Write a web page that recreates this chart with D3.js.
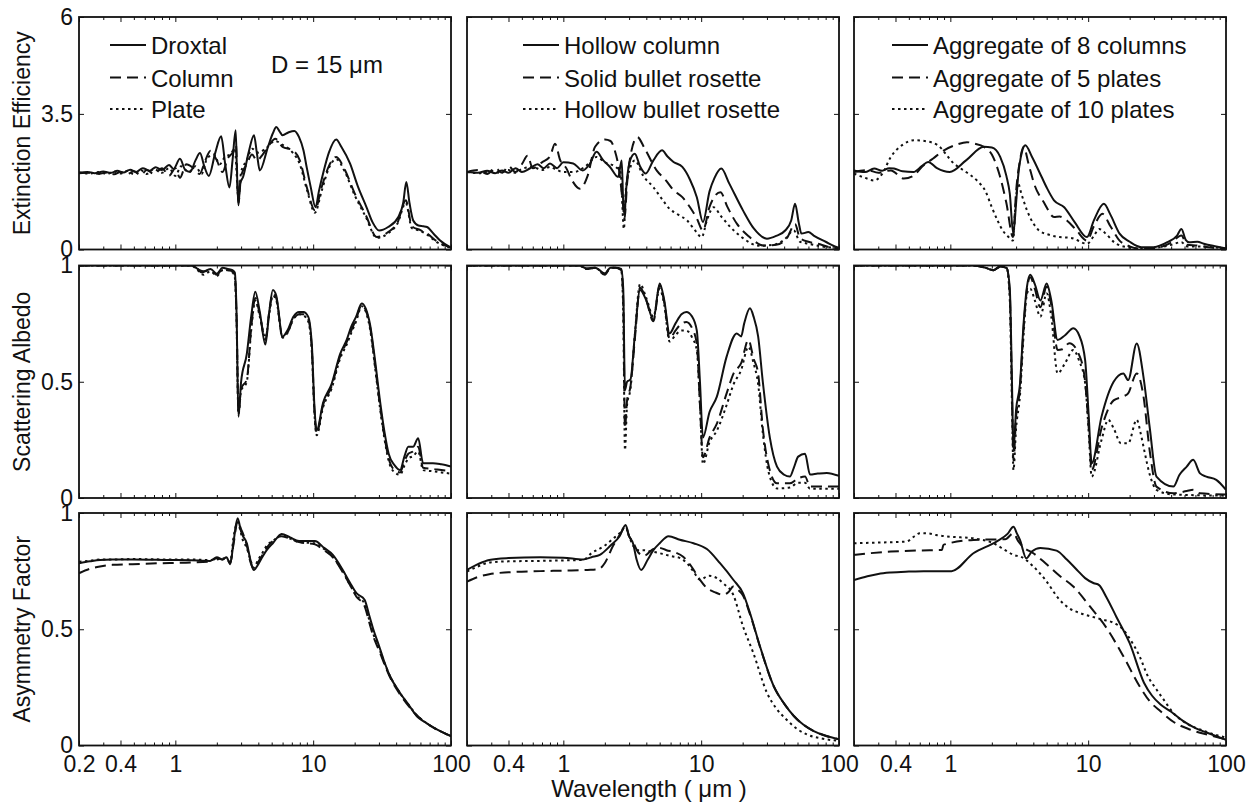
<!DOCTYPE html>
<html>
<head>
<meta charset="utf-8">
<script src="https://cdn.jsdelivr.net/npm/d3@7"></script>
<style>
  body { margin: 0; background: #fff; }
  svg text { font-family: "Liberation Sans", Arial, Helvetica, sans-serif; fill: #111; }
</style>
</head>
<body>
<svg id="chart" width="1251" height="803"></svg>
<script>
'use strict';

// ---- axis / label data ----
var wavelengthTicks = [0.2, 0.4, 1, 10, 100];
var wavelengthMinor = [0.3, 0.5, 0.6, 0.7, 0.8, 0.9, 2, 3, 4, 5, 6, 7, 8, 9, 20, 30, 40, 50, 60, 70, 80, 90];
var rowLabels = ['Extinction Efficiency', 'Scattering Albedo', 'Asymmetry Factor'];
var rowDomains = [[0, 6], [0, 1], [0, 1]];
var rowTicks = [[0, 3.5, 6], [0, 0.5, 1], [0, 0.5, 1]];
var legendNames = [
    ['Droxtal', 'Column', 'Plate'],
    ['Hollow column', 'Solid bullet rosette', 'Hollow bullet rosette'],
    ['Aggregate of 8 columns', 'Aggregate of 5 plates', 'Aggregate of 10 plates']
];

// ---- extinction efficiency [wavelength um, value] ----
var qextDroxtal = [[0.2,1.98],[0.23,2.0],[0.26,1.97],[0.3,2.01],[0.34,1.98],[0.38,2.03],[0.42,1.99],[0.47,2.06],[0.52,2.0],[0.58,2.1],[0.65,2.03],[0.72,2.12],[0.8,2.05],[0.9,2.18],[0.97,2.08],[1.08,2.34],[1.18,2.05],[1.28,2.0],[1.4,2.3],[1.51,2.49],[1.62,2.15],[1.75,1.9],[1.95,2.5],[2.15,2.92],[2.3,2.2],[2.47,1.6],[2.6,2.3],[2.74,3.08],[2.8,2.0],[2.87,1.14],[2.95,1.7],[3.1,1.87],[3.4,2.5],[3.72,2.95],[3.9,2.5],[4.1,2.04],[4.7,2.65],[5.1,3.0],[5.4,3.16],[5.7,3.05],[6.0,2.95],[6.6,3.02],[7.3,3.06],[7.9,2.9],[8.5,2.56],[9.0,2.1],[9.6,1.61],[10.4,1.09],[11.0,1.5],[11.8,1.96],[13.0,2.5],[14.7,2.84],[16.0,2.65],[18.5,2.22],[21,1.65],[24.4,1.09],[27,0.7],[30.1,0.49],[35,0.58],[41.5,0.84],[45,1.2],[47.4,1.74],[50,1.2],[53.2,0.75],[58,0.62],[63,0.6],[67,0.58],[75,0.4],[83.4,0.23],[100,0.05]];
var qextColumn = [[0.2,1.97],[0.24,1.98],[0.28,1.95],[0.32,1.99],[0.36,1.94],[0.4,2.0],[0.45,1.95],[0.5,2.02],[0.56,1.92],[0.62,2.05],[0.7,1.95],[0.8,2.1],[0.9,1.9],[1.0,2.1],[1.08,1.85],[1.2,2.2],[1.35,2.1],[1.5,1.95],[1.65,2.3],[1.8,2.55],[2.0,2.3],[2.2,2.0],[2.4,2.35],[2.6,2.5],[2.75,2.7],[2.87,1.2],[3.0,1.9],[3.3,2.2],[3.6,2.45],[3.9,2.3],[4.3,2.45],[4.8,2.7],[5.3,2.86],[6.0,2.65],[7.1,2.56],[8.0,2.3],[9.0,1.6],[10.3,1.01],[11.5,1.6],[13,2.15],[14.7,2.39],[17,2.05],[20,1.45],[24,0.9],[29,0.32],[35,0.45],[41,0.7],[47,1.27],[52,0.6],[60,0.5],[67,0.41],[80,0.2],[100,0.05]];
var qextPlate = [[0.2,1.99],[0.24,1.96],[0.28,2.0],[0.32,1.95],[0.36,2.01],[0.4,1.96],[0.45,2.03],[0.5,1.94],[0.56,2.05],[0.62,1.95],[0.7,2.08],[0.8,1.98],[0.9,2.1],[1.0,1.9],[1.1,2.15],[1.25,2.0],[1.4,2.15],[1.55,1.95],[1.7,2.35],[1.9,2.45],[2.1,2.2],[2.3,2.4],[2.5,2.45],[2.7,2.6],[2.87,1.3],[3.0,2.0],[3.3,2.3],[3.6,2.6],[4.0,2.5],[4.5,2.6],[5.3,2.8],[6.0,2.7],[7.1,2.5],[8.0,2.2],[9.0,1.55],[10.3,0.95],[11.5,1.5],[13,2.1],[14.7,2.33],[17,2.0],[20,1.4],[24,0.85],[29,0.3],[35,0.42],[41,0.68],[47,1.2],[52,0.55],[60,0.48],[67,0.38],[80,0.18],[100,0.04]];

var qextHollowColumn = [[0.2,2.0],[0.24,1.98],[0.28,2.03],[0.32,1.97],[0.36,2.04],[0.4,1.98],[0.45,2.1],[0.5,2.0],[0.57,2.09],[0.65,2.2],[0.72,2.1],[0.8,2.22],[0.9,2.1],[1.0,2.25],[1.18,2.22],[1.38,2.04],[1.55,2.2],[1.74,2.52],[1.95,2.3],[2.18,2.13],[2.5,1.87],[2.65,2.3],[2.72,1.2],[2.78,0.9],[2.85,1.5],[3.05,2.3],[3.3,2.47],[3.6,2.15],[3.96,1.96],[4.5,2.3],[5.2,2.56],[5.7,2.4],[6.3,2.26],[7.3,2.13],[8.3,1.8],[9.3,1.35],[10.3,0.71],[11.5,1.5],[12.5,1.85],[14,2.09],[16,1.7],[20.1,1.01],[24,0.55],[30,0.28],[35,0.35],[40.7,0.49],[45,0.75],[48,1.18],[51,0.7],[53.4,0.41],[60,0.45],[65.5,0.36],[80,0.2],[97,0.06],[100,0.05]];
var qextSolidBullet = [[0.2,2.0],[0.24,2.05],[0.28,1.95],[0.32,2.1],[0.36,1.98],[0.4,2.15],[0.45,2.0],[0.5,2.2],[0.55,2.42],[0.6,2.1],[0.7,2.25],[0.8,2.4],[0.87,2.73],[0.95,2.3],[1.05,2.1],[1.15,1.8],[1.32,1.57],[1.5,1.9],[1.7,2.65],[2.0,2.84],[2.2,2.8],[2.36,2.56],[2.55,2.0],[2.7,1.2],[2.78,0.8],[2.9,1.7],[3.1,2.5],[3.44,2.9],[3.9,2.6],[4.75,2.04],[5.5,1.8],[6.3,1.53],[7.3,1.35],[8.3,1.09],[9.3,0.8],[10.3,0.49],[11.5,1.1],[13.8,1.48],[15.5,1.1],[18.2,0.66],[22,0.35],[28.6,0.1],[35,0.12],[42,0.3],[48,0.66],[52,0.3],[60,0.2],[70,0.15],[85,0.06],[100,0.03]];
var qextHollowBullet = [[0.2,2.0],[0.25,1.97],[0.3,2.03],[0.35,1.98],[0.4,2.05],[0.45,1.98],[0.5,2.08],[0.6,2.13],[0.7,2.05],[0.8,2.13],[0.9,2.05],[1.0,2.0],[1.2,2.0],[1.45,2.15],[1.74,2.39],[2.0,2.25],[2.4,2.13],[2.6,2.0],[2.75,0.53],[2.85,1.6],[3.05,2.1],[3.3,2.3],[3.8,1.9],[4.5,1.61],[5.2,1.3],[5.9,1.05],[6.8,0.9],[7.9,0.75],[9.0,0.5],[10.1,0.32],[11,0.75],[12.3,1.09],[14,0.85],[16.3,0.58],[20,0.3],[26,0.1],[33,0.12],[40,0.25],[47,0.49],[52,0.2],[60,0.15],[75,0.08],[100,0.03]];

var qextAgg8Col = [[0.2,2.04],[0.24,2.0],[0.28,2.09],[0.32,2.03],[0.36,2.1],[0.39,2.09],[0.45,2.02],[0.54,2.0],[0.62,2.15],[0.69,2.26],[0.8,2.1],[0.99,2.0],[1.3,2.3],[1.75,2.65],[2.0,2.63],[2.3,2.39],[2.55,1.9],[2.7,1.44],[2.86,0.41],[3.0,1.2],[3.1,1.87],[3.3,2.5],[3.5,2.69],[3.9,2.4],[4.6,1.87],[5.0,1.6],[5.65,1.27],[6.7,1.09],[8,0.7],[9.8,0.32],[11,0.75],[13,1.18],[14.5,0.9],[16.9,0.41],[20,0.2],[24.3,0.06],[30,0.06],[37.7,0.19],[44,0.35],[47.5,0.53],[51,0.25],[54,0.19],[62,0.2],[69,0.15],[85,0.08],[100,0.03]];
var qextAgg5Plate = [[0.2,2.0],[0.25,2.05],[0.3,1.98],[0.37,2.04],[0.46,1.83],[0.54,1.9],[0.62,2.13],[0.75,2.35],[0.9,2.56],[1.1,2.7],[1.32,2.77],[1.5,2.73],[1.75,2.65],[2.0,2.45],[2.3,1.87],[2.55,1.2],[2.85,0.32],[3.0,1.5],[3.2,2.3],[3.4,2.65],[3.7,2.2],[4.05,1.7],[4.8,1.2],[5.65,0.84],[6.2,0.85],[7,0.75],[8.2,0.5],[9.8,0.23],[11,0.6],[12.7,0.92],[14.5,0.6],[16.9,0.23],[20,0.08],[24,0.02],[32,0.05],[40,0.18],[47.5,0.36],[52,0.12],[62,0.1],[75,0.06],[100,0.02]];
var qextAgg10Plate = [[0.2,1.96],[0.24,1.85],[0.28,1.78],[0.32,1.95],[0.37,2.39],[0.45,2.7],[0.545,2.82],[0.65,2.8],[0.81,2.69],[1.06,2.22],[1.3,2.0],[1.56,1.78],[1.8,1.5],[2.0,1.09],[2.2,0.75],[2.4,0.49],[2.6,0.35],[2.85,0.23],[2.95,1.0],[3.1,1.7],[3.3,1.4],[3.6,1.01],[4.4,0.49],[5.2,0.38],[6.2,0.32],[7.5,0.3],[9.8,0.15],[11,0.35],[12,0.53],[13.5,0.4],[15.4,0.19],[19,0.06],[24,0.02],[32,0.05],[40,0.12],[47.5,0.19],[52,0.08],[62,0.08],[100,0.02]];

// ---- single scattering albedo ----
var ssaDroxtal = [[0.2,1],[1.3,1],[1.43,0.988],[1.55,0.97],[1.8,0.985],[2.0,0.965],[2.2,0.99],[2.4,0.985],[2.6,0.98],[2.7,0.97],[2.78,0.8],[2.87,0.35],[3.0,0.5],[3.3,0.62],[3.55,0.78],[3.8,0.887],[4.1,0.8],[4.5,0.66],[4.8,0.8],[5.1,0.895],[5.4,0.87],[6.0,0.694],[6.5,0.72],[7.2,0.78],[7.9,0.8],[8.5,0.8],[9.2,0.78],[9.8,0.65],[10.2,0.4],[10.6,0.29],[11.8,0.41],[13.6,0.49],[15.7,0.62],[17.5,0.68],[18.9,0.737],[20.5,0.78],[22.5,0.837],[25.8,0.75],[28,0.6],[30.5,0.42],[33,0.28],[35.3,0.19],[39,0.14],[42.7,0.12],[46,0.18],[49,0.22],[53,0.22],[57.8,0.257],[62.8,0.149],[74,0.15],[85,0.145],[100,0.135]];
var ssaColumn = [[0.2,1],[1.3,1],[1.45,0.985],[1.6,0.975],[1.8,0.98],[2.0,0.96],[2.2,0.985],[2.4,0.98],[2.6,0.975],[2.7,0.96],[2.78,0.78],[2.87,0.37],[3.0,0.47],[3.3,0.51],[3.55,0.73],[3.8,0.86],[4.1,0.79],[4.5,0.68],[4.8,0.8],[5.1,0.88],[5.4,0.86],[6.0,0.69],[6.5,0.71],[7.2,0.77],[7.9,0.79],[8.5,0.79],[9.2,0.77],[9.8,0.63],[10.2,0.38],[10.6,0.28],[11.8,0.4],[13.6,0.48],[15.7,0.61],[17.5,0.67],[18.9,0.72],[20.5,0.77],[22.5,0.83],[25.8,0.74],[28,0.58],[30.5,0.4],[33,0.26],[35.3,0.17],[39,0.12],[42.7,0.11],[46,0.16],[49,0.19],[53,0.2],[57.8,0.22],[62.8,0.13],[74,0.125],[85,0.12],[100,0.115]];
var ssaPlate = [[0.2,1],[1.3,1],[1.45,0.98],[1.6,0.96],[1.8,0.975],[2.0,0.955],[2.2,0.98],[2.4,0.98],[2.6,0.97],[2.7,0.95],[2.78,0.76],[2.87,0.36],[3.0,0.46],[3.3,0.5],[3.55,0.72],[3.8,0.85],[4.1,0.78],[4.5,0.69],[4.8,0.79],[5.1,0.87],[5.4,0.85],[6.0,0.69],[6.5,0.71],[7.2,0.77],[7.9,0.79],[8.5,0.785],[9.2,0.76],[9.8,0.62],[10.2,0.37],[10.6,0.27],[11.8,0.39],[13.6,0.47],[15.7,0.6],[17.5,0.66],[18.9,0.71],[20.5,0.76],[22.5,0.825],[25.8,0.73],[28,0.57],[30.5,0.39],[33,0.25],[35.3,0.16],[39,0.11],[42.7,0.1],[46,0.14],[49,0.17],[53,0.18],[57.8,0.2],[62.8,0.12],[74,0.115],[85,0.11],[100,0.105]];

var ssaHollowColumn = [[0.2,1],[1.3,1],[1.47,0.988],[1.7,0.99],[2.0,0.966],[2.2,0.99],[2.4,0.99],[2.63,0.985],[2.72,0.9],[2.8,0.465],[2.9,0.5],[3.07,0.51],[3.3,0.7],[3.6,0.895],[4.0,0.85],[4.5,0.766],[5.0,0.923],[5.4,0.85],[5.9,0.708],[6.5,0.75],[7.2,0.79],[7.8,0.8],[8.6,0.78],[9.3,0.72],[9.8,0.5],[10.3,0.26],[11.5,0.37],[13,0.436],[15.3,0.608],[18.1,0.708],[19.5,0.695],[20.5,0.75],[22.6,0.816],[24,0.78],[25.9,0.695],[28,0.5],[31.5,0.26],[35.5,0.135],[40,0.1],[44,0.092],[47,0.13],[50.6,0.178],[56.7,0.19],[61.6,0.101],[70,0.105],[81.5,0.108],[100,0.095]];
var ssaSolidBullet = [[0.2,1],[1.3,1],[1.47,0.985],[1.7,0.99],[2.0,0.96],[2.2,0.99],[2.4,0.99],[2.63,0.98],[2.72,0.85],[2.8,0.3],[2.9,0.42],[3.07,0.48],[3.3,0.68],[3.6,0.905],[4.0,0.85],[4.5,0.76],[5.0,0.915],[5.4,0.84],[5.9,0.685],[6.5,0.72],[7.2,0.75],[7.8,0.757],[8.6,0.73],[9.3,0.663],[9.8,0.4],[10.3,0.175],[11.5,0.26],[13,0.32],[15.3,0.45],[17.2,0.536],[19.5,0.58],[22,0.68],[24,0.6],[25.9,0.536],[28,0.3],[31,0.135],[35.5,0.063],[44,0.063],[50.6,0.085],[56.7,0.092],[61.6,0.05],[100,0.05]];
var ssaHollowBullet = [[0.2,1],[1.3,1],[1.47,0.985],[1.7,0.99],[2.0,0.965],[2.2,0.99],[2.4,0.99],[2.63,0.98],[2.72,0.8],[2.8,0.206],[2.9,0.4],[3.07,0.47],[3.3,0.7],[3.6,0.92],[4.0,0.86],[4.5,0.78],[5.0,0.9],[5.4,0.83],[5.9,0.673],[6.5,0.7],[7.2,0.72],[7.8,0.72],[8.6,0.69],[9.3,0.636],[9.8,0.4],[10.3,0.146],[11.5,0.24],[13,0.29],[15.3,0.4],[17.2,0.49],[19.5,0.55],[22,0.65],[24,0.58],[25.9,0.49],[28,0.28],[31,0.106],[35.5,0.041],[44,0.045],[50.6,0.066],[56.7,0.066],[61.6,0.04],[100,0.04]];

var ssaAgg8Col = [[0.2,1],[1.3,1],[1.47,1.0],[1.8,0.99],[2.05,0.98],[2.3,0.995],[2.56,0.99],[2.7,0.9],[2.8,0.5],[2.87,0.206],[3.0,0.38],[3.2,0.49],[3.4,0.75],[3.6,0.91],[3.8,0.96],[4.1,0.92],[4.5,0.85],[5.0,0.923],[5.4,0.85],[6.0,0.68],[6.8,0.7],[7.8,0.73],[8.6,0.7],[9.5,0.594],[10.1,0.35],[10.6,0.149],[12.5,0.35],[15.3,0.5],[18,0.536],[19.5,0.507],[22.5,0.665],[25.2,0.52],[28,0.3],[31.3,0.092],[41.5,0.049],[46,0.1],[51.9,0.135],[57.8,0.164],[64.8,0.106],[72,0.092],[85,0.078],[100,0.035]];
var ssaAgg5Plate = [[0.2,1],[1.3,1],[1.47,1.0],[1.8,0.99],[2.05,0.98],[2.3,0.995],[2.56,0.99],[2.7,0.88],[2.8,0.45],[2.87,0.16],[3.0,0.35],[3.2,0.47],[3.4,0.73],[3.6,0.9],[3.8,0.95],[4.1,0.9],[4.5,0.82],[5.0,0.91],[5.4,0.83],[6.0,0.637],[6.5,0.64],[7.3,0.666],[8.7,0.608],[9.5,0.5],[10.1,0.3],[10.6,0.12],[12.5,0.3],[15.3,0.42],[18,0.437],[19.5,0.45],[22.5,0.536],[25.2,0.437],[28,0.2],[31.3,0.049],[41.5,0.02],[51.9,0.03],[57.8,0.035],[64.8,0.02],[100,0.015]];
var ssaAgg10Plate = [[0.2,1],[1.3,1],[1.47,1.0],[1.8,0.99],[2.05,0.98],[2.3,0.995],[2.56,0.99],[2.7,0.85],[2.8,0.4],[2.87,0.12],[3.0,0.3],[3.2,0.44],[3.4,0.7],[3.6,0.88],[3.8,0.9],[4.1,0.85],[4.5,0.78],[5.0,0.88],[5.4,0.78],[6.0,0.536],[6.8,0.58],[7.8,0.637],[8.6,0.59],[9.5,0.495],[10.1,0.28],[10.6,0.092],[12.5,0.25],[14,0.336],[15.3,0.3],[17.3,0.235],[19.5,0.235],[22.5,0.336],[24,0.28],[25.5,0.206],[28,0.1],[31.3,0.035],[41.5,0.015],[100,0.01]];

// ---- asymmetry factor ----
var gDroxtal = [[0.2,0.784],[0.24,0.792],[0.284,0.798],[0.35,0.8],[0.49,0.8],[0.91,0.798],[1.3,0.797],[1.79,0.794],[2.0,0.81],[2.2,0.8],[2.35,0.81],[2.5,0.78],[2.65,0.88],[2.83,0.977],[3.0,0.92],[3.1,0.9],[3.3,0.87],[3.5,0.8],[3.7,0.755],[4.0,0.78],[4.3,0.813],[4.6,0.84],[5.1,0.87],[5.9,0.91],[6.8,0.895],[7.9,0.88],[10.3,0.88],[12,0.85],[13.9,0.82],[16.4,0.755],[18.5,0.7],[20.6,0.655],[23.6,0.627],[25.5,0.56],[27.3,0.5],[30,0.43],[32.4,0.37],[36,0.3],[42.7,0.226],[50,0.17],[56.5,0.126],[65,0.1],[75.5,0.076],[88,0.055],[100,0.04]];
var gColumn = [[0.2,0.741],[0.24,0.76],[0.284,0.77],[0.35,0.777],[0.49,0.78],[0.91,0.785],[1.3,0.787],[1.79,0.792],[2.0,0.805],[2.2,0.8],[2.35,0.805],[2.5,0.785],[2.65,0.87],[2.83,0.965],[3.0,0.93],[3.1,0.91],[3.3,0.86],[3.5,0.79],[3.7,0.76],[4.0,0.79],[4.3,0.82],[4.6,0.85],[5.1,0.88],[5.9,0.9],[6.8,0.89],[7.9,0.875],[10.3,0.865],[12,0.84],[13.9,0.81],[16.4,0.745],[18.5,0.69],[20.6,0.64],[23.6,0.6],[25.5,0.53],[27.3,0.47],[30,0.41],[32.4,0.36],[36,0.295],[42.7,0.22],[50,0.165],[56.5,0.13],[65,0.1],[75.5,0.075],[88,0.055],[100,0.04]];
var gPlate = [[0.2,0.79],[0.24,0.795],[0.284,0.8],[0.35,0.8],[0.49,0.802],[0.91,0.8],[1.3,0.8],[1.79,0.798],[2.0,0.8],[2.2,0.805],[2.35,0.8],[2.5,0.79],[2.65,0.9],[2.83,0.96],[3.0,0.91],[3.1,0.88],[3.3,0.85],[3.5,0.8],[3.7,0.765],[4.0,0.8],[4.3,0.83],[4.6,0.86],[5.1,0.88],[5.9,0.905],[6.8,0.89],[7.9,0.875],[10.3,0.87],[12,0.845],[13.9,0.81],[16.4,0.75],[18.5,0.69],[20.6,0.645],[23.6,0.61],[25.5,0.54],[27.3,0.48],[30,0.42],[32.4,0.365],[36,0.3],[42.7,0.225],[50,0.17],[56.5,0.13],[65,0.1],[75.5,0.075],[88,0.055],[100,0.04]];

var gHollowColumn = [[0.2,0.755],[0.24,0.78],[0.29,0.798],[0.4,0.806],[0.68,0.81],[1.0,0.808],[1.39,0.8],[1.6,0.81],[1.84,0.82],[2.2,0.86],[2.56,0.9],[2.83,0.948],[3.0,0.9],[3.2,0.87],[3.4,0.8],[3.67,0.755],[4.1,0.8],[4.5,0.84],[5.0,0.87],[5.8,0.9],[7.0,0.885],[8.8,0.87],[11,0.845],[13.7,0.784],[17.1,0.713],[20.1,0.655],[22.6,0.57],[26.7,0.427],[33.6,0.255],[40,0.18],[47.2,0.126],[55,0.09],[65.6,0.062],[80,0.042],[100,0.027]];
var gSolidBullet = [[0.2,0.705],[0.24,0.725],[0.29,0.737],[0.4,0.745],[0.68,0.75],[1.0,0.752],[1.5,0.755],[1.8,0.758],[2.0,0.785],[2.3,0.86],[2.56,0.905],[2.83,0.94],[3.0,0.9],[3.2,0.875],[3.5,0.83],[3.85,0.816],[4.5,0.845],[5.0,0.85],[5.6,0.84],[6.5,0.83],[7.4,0.812],[8.5,0.77],[9.8,0.713],[11,0.677],[12.5,0.66],[14.4,0.648],[15.8,0.66],[17.1,0.684],[18.5,0.67],[20.1,0.645],[22.6,0.565],[26.7,0.425],[33.6,0.255],[40,0.18],[47.2,0.126],[55,0.09],[65.6,0.062],[80,0.042],[100,0.027]];
var gHollowBullet = [[0.2,0.748],[0.24,0.77],[0.29,0.787],[0.4,0.792],[0.68,0.794],[1.0,0.796],[1.39,0.798],[1.6,0.827],[2.0,0.86],[2.3,0.89],[2.56,0.913],[2.83,0.94],[3.0,0.9],[3.2,0.86],[3.5,0.84],[3.85,0.84],[4.3,0.835],[5.0,0.827],[6.0,0.815],[7.1,0.805],[8.0,0.78],[8.8,0.748],[9.8,0.713],[11.4,0.73],[13,0.72],[14.4,0.698],[17.1,0.648],[20.1,0.513],[23.9,0.398],[30,0.227],[35,0.16],[41.5,0.112],[50,0.07],[58.7,0.047],[75,0.03],[100,0.02]];

var gAgg8Col = [[0.2,0.712],[0.25,0.728],[0.3,0.738],[0.37,0.744],[0.5,0.748],[0.64,0.75],[1.02,0.75],[1.47,0.827],[2.16,0.877],[2.6,0.91],[2.87,0.941],[3.05,0.91],[3.2,0.884],[3.56,0.805],[3.9,0.834],[4.5,0.85],[5.9,0.838],[7,0.8],[8.3,0.755],[9.5,0.72],[11,0.698],[12,0.69],[13.5,0.64],[16,0.554],[20,0.44],[25.4,0.27],[29,0.215],[33.5,0.176],[40,0.145],[49,0.105],[60,0.075],[73,0.055],[100,0.024]];
var gAgg5Plate = [[0.2,0.82],[0.25,0.826],[0.37,0.834],[0.6,0.839],[0.87,0.841],[0.89,0.863],[1.47,0.884],[2.0,0.886],[2.5,0.887],[2.87,0.913],[3.1,0.88],[3.35,0.856],[4.0,0.827],[4.9,0.784],[6.2,0.73],[7.8,0.684],[10.3,0.598],[13.6,0.505],[18,0.384],[23.6,0.255],[28,0.19],[33.5,0.147],[42,0.1],[54.6,0.069],[75,0.045],[100,0.027]];
var gAgg10Plate = [[0.2,0.87],[0.3,0.873],[0.48,0.877],[0.55,0.9],[0.6,0.913],[0.7,0.912],[0.79,0.905],[1.0,0.898],[1.47,0.891],[2.05,0.87],[2.5,0.84],[2.87,0.82],[3.3,0.81],[4.0,0.77],[4.9,0.712],[6.2,0.627],[7.3,0.59],[8.7,0.57],[10.5,0.555],[12.8,0.541],[15,0.53],[18,0.498],[20.5,0.45],[23.6,0.384],[27,0.3],[31.4,0.24],[36,0.19],[41.5,0.14],[50,0.1],[64.8,0.069],[80,0.05],[100,0.034]];

// panels[row][col] = [solid, dashed, dotted]
var panels = [
    [[qextDroxtal, qextColumn, qextPlate], [qextHollowColumn, qextSolidBullet, qextHollowBullet], [qextAgg8Col, qextAgg5Plate, qextAgg10Plate]],
    [[ssaDroxtal, ssaColumn, ssaPlate], [ssaHollowColumn, ssaSolidBullet, ssaHollowBullet], [ssaAgg8Col, ssaAgg5Plate, ssaAgg10Plate]],
    [[gDroxtal, gColumn, gPlate], [gHollowColumn, gSolidBullet, gHollowBullet], [gAgg8Col, gAgg5Plate, gAgg10Plate]]
];

// ---- layout ----
var colLeft = [79, 467, 854];
var rowTop = [17, 265.5, 513];
var pw = 372, ph = 232.5;
var dashes = [null, '11,6', '2.5,3.5'];
var legendX = [110, 523, 892];
var legendY = [45, 77.5, 109];
var tickFont = 23, textFont = 24;

var svg = d3.select('#chart');

var x = d3.scaleLog().domain([0.2, 100]).range([0, pw]);

var line = d3.line()
    .curve(d3.curveMonotoneX)
    .x(function (d) { return x(d[0]); });

panels.forEach(function (rowData, r) {
    var y = d3.scaleLinear().domain(rowDomains[r]).range([ph, 0]);
    line.y(function (d) { return y(d[1]); });

    rowData.forEach(function (seriesSet, c) {
        var g = svg.append('g')
            .attr('transform', 'translate(' + colLeft[c] + ',' + rowTop[r] + ')');

        var clipId = 'clip-' + r + '-' + c;
        g.append('clipPath').attr('id', clipId)
            .append('rect').attr('width', pw).attr('height', ph);

        g.append('g').attr('clip-path', 'url(#' + clipId + ')')
            .selectAll('path')
            .data(seriesSet)
            .enter().append('path')
            .attr('d', line)
            .attr('fill', 'none')
            .attr('stroke', '#111')
            .attr('stroke-width', 2)
            .attr('stroke-dasharray', function (d, i) { return dashes[i]; });

        // minor ticks, top and bottom, pointing inward
        g.append('g').attr('transform', 'translate(0,' + ph + ')')
            .call(d3.axisBottom(x).tickValues(wavelengthMinor).tickSizeInner(-3).tickSizeOuter(0).tickFormat(''));
        g.append('g')
            .call(d3.axisTop(x).tickValues(wavelengthMinor).tickSizeInner(-3).tickSizeOuter(0).tickFormat(''));

        // major ticks, labels only on the bottom row
        var labelTicks = (c === 0) ? wavelengthTicks : wavelengthTicks.slice(1);
        var bottom = d3.axisBottom(x).tickValues(wavelengthTicks).tickSizeInner(-5).tickSizeOuter(0)
            .tickPadding(10)
            .tickFormat(function (d) {
                return (r === 2 && labelTicks.indexOf(d) >= 0) ? String(d) : '';
            });
        g.append('g').attr('transform', 'translate(0,' + ph + ')').call(bottom);
        g.append('g')
            .call(d3.axisTop(x).tickValues(wavelengthTicks).tickSizeInner(-5).tickSizeOuter(0).tickFormat(''));

        var left = d3.axisLeft(y).tickValues(rowTicks[r]).tickSizeInner(-5).tickSizeOuter(0)
            .tickPadding(6)
            .tickFormat(function (d) { return c === 0 ? String(d) : ''; });
        g.append('g').call(left);
        g.append('g').attr('transform', 'translate(' + pw + ',0)')
            .call(d3.axisRight(y).tickValues(rowTicks[r]).tickSizeInner(-5).tickSizeOuter(0).tickFormat(''));

        g.selectAll('.domain').remove();
        g.selectAll('.tick line').attr('stroke', '#111').attr('stroke-width', 1);
        g.selectAll('.tick text')
            .style('font-family', '"Liberation Sans", Arial, sans-serif')
            .style('font-size', tickFont + 'px')
            .attr('fill', '#111');

        g.append('rect')
            .attr('width', pw).attr('height', ph)
            .attr('fill', 'none')
            .attr('stroke', '#111')
            .attr('stroke-width', 1.8);

        // legend in top row
        if (r === 0) {
            legendNames[c].forEach(function (name, i) {
                svg.append('line')
                    .attr('x1', legendX[c]).attr('x2', legendX[c] + 36)
                    .attr('y1', legendY[i]).attr('y2', legendY[i])
                    .attr('stroke', '#111')
                    .attr('stroke-width', 2)
                    .attr('stroke-dasharray', dashes[i]);
                svg.append('text')
                    .attr('x', legendX[c] + 41)
                    .attr('y', legendY[i] + 9)
                    .style('font-size', textFont + 'px')
                    .text(name);
            });
        }
    });

    svg.append('text')
        .attr('transform', 'translate(30,' + (rowTop[r] + ph / 2) + ') rotate(-90)')
        .attr('text-anchor', 'middle')
        .style('font-size', tickFont + 'px')
        .text(rowLabels[r]);
});

svg.append('text')
    .attr('x', 271).attr('y', 73)
    .style('font-size', textFont + 'px')
    .text('D = 15 \u03bcm');

svg.append('text')
    .attr('x', 649).attr('y', 797)
    .attr('text-anchor', 'middle')
    .style('font-size', textFont + 'px')
    .text('Wavelength ( \u03bcm )');
</script>
</body>
</html>
